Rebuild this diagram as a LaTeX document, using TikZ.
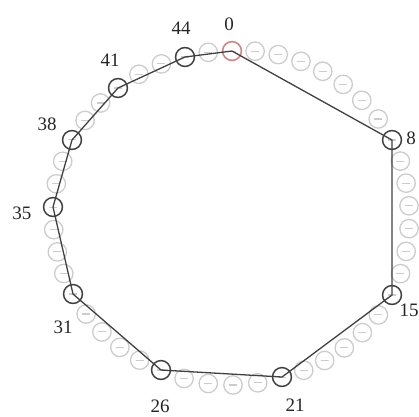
\documentclass[tikz,border=0pt]{standalone}
\usepackage{fontspec}
\setmainfont{Liberation Serif}
\begin{document}
\begin{tikzpicture}[x=1pt,y=-1pt,
  ring/.style={draw=black!20, line width=1.3pt},
  blkcirc/.style={circle, draw=black!75, line width=1.4pt, minimum size=19pt, inner sep=0pt},
  redcirc/.style={blkcirc, draw={rgb,255:red,214;green,130;blue,130}},
  conn/.style={draw=black!75, line width=1.3pt},
  lbl/.style={font=\fontsize{19}{19}\selectfont, text=black!85, inner sep=0pt}]
\useasboundingbox (0,0) rectangle (419,416);
% ring of small circles
\foreach \ia/\aa/\ra/\ib/\ab/\rb in {0/88.6/164.0/8/24.6/180.3, 8/24.6/180.3/15/-26.0/182.5, 15/-26.0/182.5/21/-71.6/170.8, 21/-71.6/170.8/26/-113.4/168.9, 26/-113.4/168.9/31/-153.0/174.0, 31/-153.0/174.0/35/-182.6/175.2, 35/-182.6/175.2/38/-205.7/173.1, 38/-205.7/173.1/41/-229.1/168.0, 41/-229.1/168.0/44/-254.8/163.7, 44/-254.8/163.7/46/-271.4/164.0}{
  \pgfmathtruncatemacro\n{\ib-\ia}
  \pgfmathtruncatemacro\m{\n-1}
  \foreach \j in {0,...,\m}{
    \pgfmathsetmacro\ang{\aa+(\ab-\aa)*\j/\n}
    \pgfmathsetmacro\rr{\ra+(\rb-\ra)*\j/\n}
    \pgfmathsetmacro\px{228+\rr*cos(\ang)}
    \pgfmathsetmacro\py{215-\rr*sin(\ang)}
    \draw[ring] (\px,\py) circle (9.2);
    \draw[ring, line width=1.1pt] (\px-4,\py) -- (\px+4,\py);
  }
}
% labelled positions
\node[redcirc] (n0) at (232,51) {};
\node[blkcirc] (n8) at (392,140) {};
\node[blkcirc] (n15) at (392,295) {};
\node[blkcirc] (n21) at (282,377) {};
\node[blkcirc] (n26) at (161,370) {};
\node[blkcirc] (n31) at (73,294) {};
\node[blkcirc] (n35) at (53,207) {};
\node[blkcirc] (n38) at (72,140) {};
\node[blkcirc] (n41) at (118,88) {};
\node[blkcirc] (n44) at (185,57) {};
% polygon
\draw[conn] (n0.center) -- (n8.center) -- (n15.center) -- (n21.center) -- (n26.center) -- (n31.center) -- (n35.center) -- (n38.center) -- (n41.center) -- (n44.center) -- (n0.center);
% labels
\node[lbl] (l0) at (229,24) {0};
\node[lbl] (l44) at (181,28) {44};
\node[lbl] (l41) at (110,60) {41};
\node[lbl] (l38) at (47,124) {38};
\node[lbl] (l35) at (22,213) {35};
\node[lbl] (l31) at (63,327) {31};
\node[lbl] (l26) at (160,406) {26};
\node[lbl] (l21) at (295,405) {21};
\node[lbl] (l15) at (409,310) {15};
\node[lbl] (l8) at (411,138) {8};
\end{tikzpicture}
\end{document}
